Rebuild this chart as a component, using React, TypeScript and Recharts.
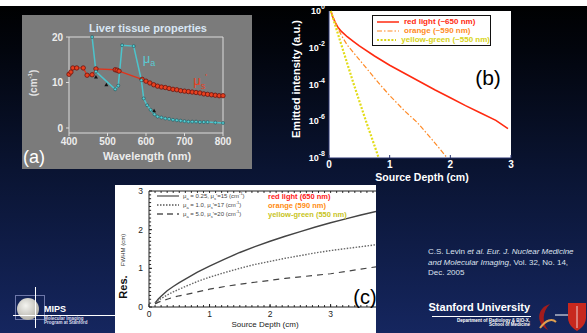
import React from "react";
import {
  ComposedChart,
  LineChart,
  Line,
  Scatter,
  XAxis,
  YAxis,
  ReferenceLine,
} from "recharts";

const FONT = '"Liberation Sans", Arial, sans-serif';

// (a) liver tissue properties
const wlScatter = [400, 405, 410, 420, 437, 447, 460, 470, 520, 525, 530, 590, 600, 610, 620, 630, 640, 650, 660, 670, 680, 690, 700, 710, 720, 730, 740, 750, 760, 770, 780, 790, 800];
const musPrime = [11.8, 12.3, 13.2, 13.2, 13.2, 11.6, 11.7, 13.0, 12.8, 12.7, 12.5, 10.7, 10.3, 9.9, 9.5, 9.2, 9.0, 8.9, 8.7, 8.5, 8.4, 8.2, 8.1, 8.0, 7.9, 7.8, 7.7, 7.5, 7.4, 7.3, 7.2, 7.1, 7.1];
const wlAbs = [460, 470, 520, 528, 538, 568, 588, 594, 603, 612, 622, 630, 640, 650, 660, 670, 680, 690, 700, 710, 720, 730, 740, 750, 760, 780, 800];
const muA = [20, 12.4, 8.5, 9.3, 18.2, 18.0, 10.5, 6.5, 5.0, 4.0, 3.0, 2.5, 2.3, 2.1, 2.0, 1.8, 1.7, 1.6, 1.5, 1.4, 1.4, 1.4, 1.3, 1.3, 1.3, 1.2, 1.1];
const wlMarks = [470, 497, 621];
const markVals = [11.2, 9.5, 3.8];
const wlTicks = [400, 500, 600, 700, 800];

// (b) emitted intensity, log10 values
const depthRed = [0.03, 0.06, 0.1, 0.15, 0.2, 0.3, 0.4, 0.5, 0.75, 1, 1.25, 1.5, 1.75, 2, 2.25, 2.5, 2.75, 2.95];
const logRed = [0, -0.3, -0.6, -0.9, -1.1, -1.4, -1.65, -1.9, -2.45, -2.95, -3.4, -3.85, -4.3, -4.72, -5.15, -5.55, -5.95, -6.4];
const depthOrange = [0.03, 0.1, 0.2, 0.3, 0.5, 0.84, 1, 1.25, 1.45, 1.7, 1.95];
const logOrange = [0, -0.6, -1.3, -1.85, -2.65, -4, -4.6, -5.45, -6.05, -7, -8];
const depthYellow = [0.03, 0.1, 0.2, 0.3, 0.4, 0.5, 0.6, 0.7, 0.82];
const logYellow = [0, -0.75, -1.8, -2.85, -3.9, -4.9, -5.9, -6.85, -8];
const expTicks = [0, -2, -4, -6, -8];
const depthTicks = [0, 1, 2, 3];

// (c) resolution FWHM
const depthC = [0.1, 0.15, 0.2, 0.3, 0.4, 0.5, 0.6, 0.8, 1, 1.25, 1.5, 1.75, 2, 2.25, 2.5, 2.75, 3, 3.25, 3.5, 3.75];
const resRed = [0.1, 0.2, 0.28, 0.42, 0.53, 0.63, 0.72, 0.9, 1.06, 1.24, 1.41, 1.56, 1.7, 1.83, 1.95, 2.07, 2.18, 2.28, 2.38, 2.47];
const resOrange = [0.1, 0.17, 0.22, 0.31, 0.39, 0.46, 0.53, 0.66, 0.77, 0.89, 1.0, 1.1, 1.18, 1.26, 1.33, 1.4, 1.46, 1.51, 1.56, 1.61];
const resYellow = [0.08, 0.12, 0.15, 0.2, 0.25, 0.29, 0.32, 0.39, 0.46, 0.53, 0.59, 0.64, 0.69, 0.74, 0.78, 0.82, 0.86, 0.92, 0.98, 1.04];
const resTicks = [0, 1, 2, 3];
const minorX = Array.from({ length: 37 }, (_, i) => (i + 1) / 10);
const minorY = Array.from({ length: 29 }, (_, i) => (i + 1) / 10);

const zip = (xs: number[], ys: number[]) => xs.map((x, i) => ({ x, y: ys[i] }));
const rowsC = depthC.map((d, i) => ({ d, r: resRed[i], o: resOrange[i], g: resYellow[i] }));

const T = ({ x, y, children, style, anchor = "middle", rot = false }: any) => {
  const tx = anchor === "middle" ? "-50%" : anchor === "start" ? "0" : "-100%";
  return (
    <div
      style={{
        position: "absolute",
        left: x,
        top: y,
        transform: `translate(${tx},-50%)` + (rot ? " rotate(-90deg)" : ""),
        whiteSpace: "nowrap",
        lineHeight: 1,
        pointerEvents: "none",
        ...style,
      }}
    >
      {children}
    </div>
  );
};

const PowTick = ({ x, y, payload }: any) => (
  <text x={x} y={y + 3} textAnchor="end" fill="#fff" fontWeight="bold" fontSize={9} fontFamily={FONT}>
    10<tspan dy={-5} fontSize={7}>{String(payload.value)}</tspan>
  </text>
);

const Tri = ({ cx, cy }: any) => (
  <path d={`M${cx} ${cy - 2} L${cx + 2} ${cy + 1.5} L${cx - 2} ${cy + 1.5} Z`} fill="#111" />
);

const LegendRow = ({ color, dash, width = 1.5, label }: any) => (
  <div style={{ display: "flex", alignItems: "center", height: 9 }}>
    <svg width={22} height={6} style={{ marginLeft: 4, marginRight: 5 }}>
      <line x1={0} y1={3} x2={22} y2={3} stroke={color} strokeWidth={width} strokeDasharray={dash} />
    </svg>
    <span style={{ color, fontSize: 8, fontWeight: "bold" }}>{label}</span>
  </div>
);

const CRow = ({ dash, top, a, s, label, color }: any) => (
  <div style={{ position: "absolute", left: 42, top: top - 4, display: "flex", alignItems: "center", height: 8, whiteSpace: "nowrap" }}>
    <svg width={22} height={4} style={{ marginRight: 4 }}>
      <line x1={0} y1={2} x2={22} y2={2} stroke="#555" strokeWidth={1.3} strokeDasharray={dash} />
    </svg>
    <span style={{ color: "#444", fontSize: 6, width: 85 }}>
      μ<sub style={{ fontSize: 4 }}>a</sub> = {a}, μ<sub style={{ fontSize: 4 }}>s</sub>'={s} (cm<sup style={{ fontSize: 4 }}>-1</sup>)
    </span>
    <span style={{ color, fontSize: 7.5, fontWeight: "bold" }}>{label}</span>
  </div>
);

export default function App() {
  const axisA = { fill: "#ececec", fontSize: 10, fontWeight: "bold", fontFamily: FONT };
  const axisC = { fill: "#222", fontSize: 8.5, fontFamily: FONT };
  return (
    <div
      style={{
        position: "absolute",
        left: 0,
        top: 0,
        width: 587,
        height: 333,
        overflow: "hidden",
        fontFamily: FONT,
        background: "linear-gradient(180deg, #000 0px, #02050d 50px, #0a1432 170px, #15265f 333px)",
      }}
    >
      <div style={{ position: "absolute", left: 0, top: 0, width: 587, height: 6, background: "#fff" }} />

      {/* (a) */}
      <div style={{ position: "absolute", left: 22, top: 15, width: 230, height: 154, background: "#7b7b7b" }}>
        <ComposedChart width={230} height={154} margin={{ top: 22, right: 29, bottom: 0, left: 0 }}>
          <XAxis type="number" dataKey="x" domain={[400, 800]} ticks={wlTicks} interval={0} height={36} stroke="#dcdcdc" tick={axisA} tickSize={3} tickMargin={2} />
          <YAxis type="number" dataKey="y" domain={[-1.1, 20]} ticks={[0, 10, 20]} interval={0} width={47} stroke="#dcdcdc" tick={axisA} tickSize={3} tickMargin={3} />
          <ReferenceLine y={20} stroke="#dcdcdc" />
          <ReferenceLine x={800} stroke="#dcdcdc" />
          <Line data={zip(wlScatter, musPrime)} dataKey="y" stroke="#e0341c" strokeWidth={1.3} isAnimationActive={false}
            dot={{ r: 2.2, fill: "#e8401e", stroke: "#6a1410", strokeWidth: 0.8 }} />
          <Line data={zip(wlAbs, muA)} dataKey="y" stroke="#4cc4cc" strokeWidth={1.5} isAnimationActive={false}
            dot={{ r: 1.5, fill: "#56cfd4", stroke: "#1f4f55", strokeWidth: 0.6 }} />
          <Scatter data={zip(wlMarks, markVals)} dataKey="y" shape={<Tri />} isAnimationActive={false} />
        </ComposedChart>
        <T x={126} y={13} style={{ color: "#d8e6f4", fontSize: 11, fontWeight: "bold" }}>Liver tissue properties</T>
        <T x={11} y={68} rot style={{ color: "#e4e4e4", fontSize: 10, fontWeight: "bold" }}>
          (cm<sup style={{ fontSize: 6 }}>-1</sup>)
        </T>
        <T x={125} y={141} style={{ color: "#ececec", fontSize: 11, fontWeight: "bold" }}>Wavelength (nm)</T>
        <T x={12} y={142} style={{ color: "#fff", fontSize: 18 }}>(a)</T>
        <T x={127} y={45} style={{ color: "#5ccad2", fontSize: 13 }}>
          μ<sub style={{ fontSize: 9 }}>a</sub>
        </T>
        <T x={178} y={67} style={{ color: "#e8401e", fontSize: 13 }}>
          μ<sub style={{ fontSize: 9 }}>s</sub><sup style={{ fontSize: 9 }}>'</sup>
        </T>
      </div>

      {/* (b) */}
      <div style={{ position: "absolute", left: 329, top: 11, width: 182, height: 147, background: "#fff" }} />
      <div style={{ position: "absolute", left: 280, top: 0 }}>
        <LineChart width={240} height={185} margin={{ top: 11, right: 9, bottom: 0, left: 0 }}>
          <XAxis type="number" dataKey="x" domain={[0, 3]} ticks={depthTicks} interval={0} height={27} stroke="#2a3570"
            tick={{ fill: "#fff", fontSize: 10, fontWeight: "bold", fontFamily: FONT }} tickSize={-3} tickMargin={6} />
          <YAxis type="number" dataKey="y" domain={[-8, 0]} ticks={expTicks} interval={0} width={49} stroke="#2a3570" tick={<PowTick />} tickSize={0} tickMargin={4} />
          <YAxis yAxisId="r" orientation="right" type="number" domain={[-8, 0]} ticks={expTicks} interval={0} width={0} mirror
            axisLine={false} tickSize={3} stroke="#222" tickFormatter={() => ""} />
          <Line data={zip(depthRed, logRed)} dataKey="y" stroke="#ff2a10" strokeWidth={1.6} dot={false} isAnimationActive={false} />
          <Line data={zip(depthOrange, logOrange)} dataKey="y" stroke="#ff8a26" strokeWidth={1.2} strokeDasharray="5 2 1.5 2" dot={false} isAnimationActive={false} />
          <Line data={zip(depthYellow, logYellow)} dataKey="y" stroke="#e2dc18" strokeWidth={2.2} strokeDasharray="2 1.6" dot={false} isAnimationActive={false} />
        </LineChart>
      </div>
      <div style={{ position: "absolute", left: 372, top: 15, width: 117, height: 28, background: "#fff", border: "1px solid #111", paddingTop: 1 }}>
        <LegendRow color="#ff2a10" label="red light (~650 nm)" />
        <LegendRow color="#ff8a26" dash="5 2 1.5 2" width={1.2} label="orange (~590 nm)" />
        <div style={{ whiteSpace: "nowrap" }}>
          <LegendRow color="#d8d418" dash="2 1.6" width={2.2} label="yellow-green (~550 nm)" />
        </div>
      </div>
      <T x={488} y={77} style={{ color: "#000", fontSize: 21 }}>(b)</T>
      <T x={296} y={79} rot style={{ color: "#fff", fontSize: 11, fontWeight: "bold" }}>Emitted intensity (a.u.)</T>
      <T x={422} y={177} style={{ color: "#fff", fontSize: 10.5, fontWeight: "bold" }}>Source Depth (cm)</T>

      {/* (c) */}
      <div style={{ position: "absolute", left: 115, top: 185, width: 261, height: 148, background: "#fff", overflow: "hidden" }}>
        <LineChart width={261} height={148} data={rowsC} margin={{ top: 6, right: 0, bottom: 0, left: 0 }}>
          <XAxis type="number" dataKey="d" domain={[0, 3.75]} ticks={resTicks} interval={0} height={26} stroke="#222"
            tick={axisC} tickSize={-3} tickMargin={7} />
          <YAxis type="number" domain={[0, 3]} ticks={resTicks} interval={0} width={34} stroke="#222"
            tick={axisC} tickSize={-3} tickMargin={9} />
          <ReferenceLine y={3} stroke="#222" />
          {minorY.map((v) => (
            <ReferenceLine key={`my${v}`} segment={[{ x: 0, y: v }, { x: 0.035, y: v }]} stroke="#222" ifOverflow="visible" />
          ))}
          {minorX.map((v) => (
            <ReferenceLine key={`mb${v}`} segment={[{ x: v, y: 0 }, { x: v, y: 0.05 }]} stroke="#222" ifOverflow="visible" />
          ))}
          {minorX.map((v) => (
            <ReferenceLine key={`mt${v}`} segment={[{ x: v, y: 3 }, { x: v, y: 2.95 }]} stroke="#222" ifOverflow="visible" />
          ))}
          <Line dataKey="r" stroke="#444" strokeWidth={1.4} dot={false} isAnimationActive={false} />
          <Line dataKey="o" stroke="#666" strokeWidth={1.4} strokeDasharray="1.5 1.5" dot={false} isAnimationActive={false} />
          <Line dataKey="g" stroke="#444" strokeWidth={1.2} strokeDasharray="6 5" dot={false} isAnimationActive={false} />
        </LineChart>
        <CRow top={11} a="0.25" s="15" label="red light (650 nm)" color="#ff2020" />
        <CRow top={20} a="1.0" s="17" dash="1.5 1.5" label="orange (590 nm)" color="#ff8c10" />
        <CRow top={29} a="5.0" s="20" dash="6 4" label="yellow-green (550 nm)" color="#c8c41c" />
        <T x={8} y={102} rot style={{ color: "#111", fontSize: 11, fontWeight: "bold" }}>Res.</T>
        <T x={8} y={65} rot style={{ color: "#333", fontSize: 6 }}>FWHM (cm)</T>
        <T x={150} y={140} style={{ color: "#222", fontSize: 8 }}>Source Depth (cm)</T>
        <T x={250} y={112} style={{ color: "#000", fontSize: 20 }}>(c)</T>
      </div>

      {/* citation */}
      <div style={{ position: "absolute", left: 428, top: 247, color: "#dde2ee", fontSize: 8, lineHeight: "10.5px" }}>
        C.S. Levin <i>et al.</i> <i>Eur. J. Nuclear Medicine</i>
        <br />
        <i>and Molecular Imaging</i>, Vol. 32, No. 14,
        <br />
        Dec. 2005
      </div>

      {/* footer left */}
      <div style={{ position: "absolute", left: 15, top: 295, width: 28, height: 23, border: "1px solid #6d77a8" }} />
      <div style={{ position: "absolute", left: 17, top: 298, width: 22, height: 22, borderRadius: 11, background: "radial-gradient(circle at 40% 35%, #f4f4f0, #b8b6ae 70%, #6c6a66)" }} />
      <div style={{ position: "absolute", left: 13, top: 315, width: 102, height: 1, background: "#fff" }} />
      <div style={{ position: "absolute", left: 35, top: 287, width: 1, height: 41, background: "#fff" }} />
      <T x={44} y={309} anchor="start" style={{ color: "#fff", fontSize: 9, fontWeight: "bold" }}>MIPS</T>
      <T x={44} y={319} anchor="start" style={{ color: "#dde", fontSize: 4.5, fontWeight: "bold" }}>Molecular Imaging</T>
      <T x={44} y={323} anchor="start" style={{ color: "#dde", fontSize: 4.5, fontWeight: "bold" }}>Program at Stanford</T>

      {/* footer right */}
      <T x={530} y={307} anchor="end" style={{ color: "#fff", fontSize: 11, fontWeight: "bold" }}>Stanford University</T>
      <div style={{ position: "absolute", left: 432, top: 316, width: 99, height: 1, background: "#fff" }} />
      <T x={530} y={321} anchor="end" style={{ color: "#fff", fontSize: 4.5, fontWeight: "bold" }}>Department of Radiology &amp; BIO-X,</T>
      <T x={530} y={325} anchor="end" style={{ color: "#fff", fontSize: 4.5, fontWeight: "bold" }}>School of Medicine</T>
      <svg style={{ position: "absolute", left: 532, top: 300 }} width={55} height={33}>
        <path d="M18 4 C4 8 4 24 16 30 C10 22 10 12 18 4 Z" fill="#a11c1c" />
        <path d="M8 28 C14 20 20 18 24 22" stroke="#e0a050" strokeWidth={2} fill="none" />
        <line x1={23} y1={15} x2={36} y2={15} stroke="#fff" strokeWidth={1} />
        <path d="M36 3 L54 3 L54 18 C54 26 45 31 45 31 C45 31 36 26 36 18 Z" fill="#c8281e" />
        <line x1={45} y1={6} x2={45} y2={28} stroke="#f0d0d0" strokeWidth={1} />
      </svg>
    </div>
  );
}
